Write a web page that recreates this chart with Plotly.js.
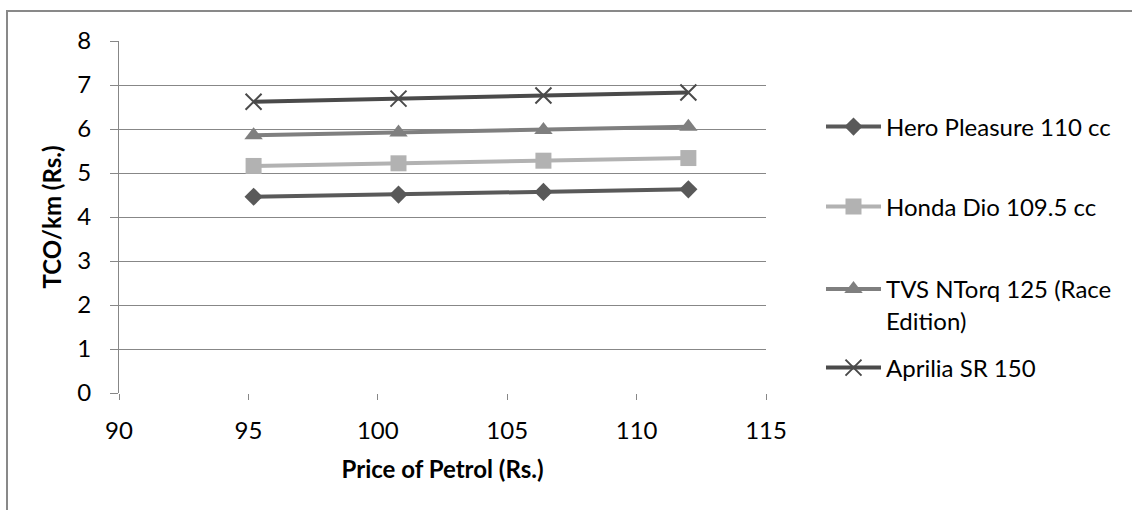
<!DOCTYPE html>
<html>
<head>
<meta charset="utf-8">
<script src="https://cdn.plot.ly/plotly-3.0.1.min.js"></script>
<style>
  html, body { margin: 0; padding: 0; background: #ffffff; }
  #chart { width: 1132px; height: 510px; }
</style>
</head>
<body>
<div id="chart"></div>
<script>
// Petrol price (Rs.) on the x axis
const petrolPrice = [95.2, 100.8, 106.4, 112.0];

// Total cost of ownership per km (Rs.) for each scooter
const heroPleasure = [4.46, 4.51, 4.57, 4.63];
const hondaDio = [5.16, 5.22, 5.28, 5.34];
const tvsNtorq = [5.86, 5.92, 5.98, 6.05];
const apriliaSR = [6.62, 6.69, 6.76, 6.83];

const seriesNames = [
  'Hero Pleasure 110 cc',
  'Honda Dio 109.5 cc',
  'TVS NTorq 125 (Race<br>Edition)',
  'Aprilia SR 150'
];

const FONT = 'Lato, "Open Sans", "Liberation Sans", sans-serif';

function series(name, y, color, symbol, size, legendId, extraMarker) {
  return {
    type: 'scatter',
    mode: 'lines+markers',
    name: name,
    x: petrolPrice,
    y: y,
    legend: legendId,
    line: { color: color, width: 4 },
    marker: Object.assign({ color: color, symbol: symbol, size: size }, extraMarker || {}),
    cliponaxis: false
  };
}

const traces = [
  series(seriesNames[0], heroPleasure, '#595959', 'diamond', 14, 'legend'),
  series(seriesNames[1], hondaDio, '#b2b2b2', 'square', 16, 'legend2'),
  series(seriesNames[2], tvsNtorq, '#7f7f7f', 'triangle-up', 16, 'legend3'),
  series(seriesNames[3], apriliaSR, '#4a4a4a', 'x-thin-open', 16, 'legend4',
         { line: { color: '#4a4a4a', width: 2 } })
];

const plotW = 647, plotH = 352;
// vertical position (paper units) of a legend row from its pixel centre
const rowY = px => (393 - px) / plotH;

function legendAt(yPx) {
  return {
    x: 1.085,
    xanchor: 'left',
    y: rowY(yPx),
    yanchor: 'middle',
    valign: 'top',
    itemwidth: 55,
    bgcolor: 'rgba(0,0,0,0)',
    borderwidth: 0,
    font: { family: FONT, size: 24, color: '#000000' }
  };
}

const layout = {
  width: 1132,
  height: 510,
  paper_bgcolor: '#ffffff',
  plot_bgcolor: '#ffffff',
  margin: { l: 119, r: 366, t: 41, b: 117, pad: 0 },
  font: { family: FONT, size: 24, color: '#000000' },
  showlegend: true,
  xaxis: {
    range: [90, 115],
    dtick: 5,
    tick0: 90,
    showgrid: false,
    zeroline: false,
    showline: false,
    ticks: 'outside',
    ticklen: 6,
    tickcolor: '#878787',
    ticklabelstandoff: 10,
    automargin: false,
    tickfont: { family: FONT, size: 24, color: '#000000' },
    title: { text: '<b>Price of Petrol (Rs.)</b>', font: { family: FONT, size: 24, color: '#000000' }, standoff: 18 }
  },
  yaxis: {
    range: [0, 8],
    dtick: 1,
    tick0: 0,
    showgrid: true,
    gridcolor: '#878787',
    gridwidth: 1,
    zeroline: false,
    showline: true,
    linecolor: '#878787',
    linewidth: 1,
    ticks: 'outside',
    ticklen: 8,
    tickcolor: '#878787',
    ticklabelstandoff: 14,
    automargin: false,
    tickfont: { family: FONT, size: 24, color: '#000000' },
    title: { text: '<b>TCO/km (Rs.)</b>', font: { family: FONT, size: 24, color: '#000000' }, standoff: 8 }
  },
  legend: legendAt(127),
  legend2: legendAt(207),
  legend3: legendAt(305),
  legend4: legendAt(368),
  shapes: [
    // chart frame (top and left edges visible)
    {
      type: 'rect', xref: 'paper', yref: 'paper',
      x0: (7 - 119) / plotW, x1: 2,
      y0: -1, y1: (393 - 11) / plotH,
      line: { color: '#898989', width: 2 },
      fillcolor: 'rgba(0,0,0,0)',
      layer: 'below'
    }
  ]
};

Plotly.newPlot('chart', traces, layout, { staticPlot: true, displayModeBar: false });
</script>
</body>
</html>
